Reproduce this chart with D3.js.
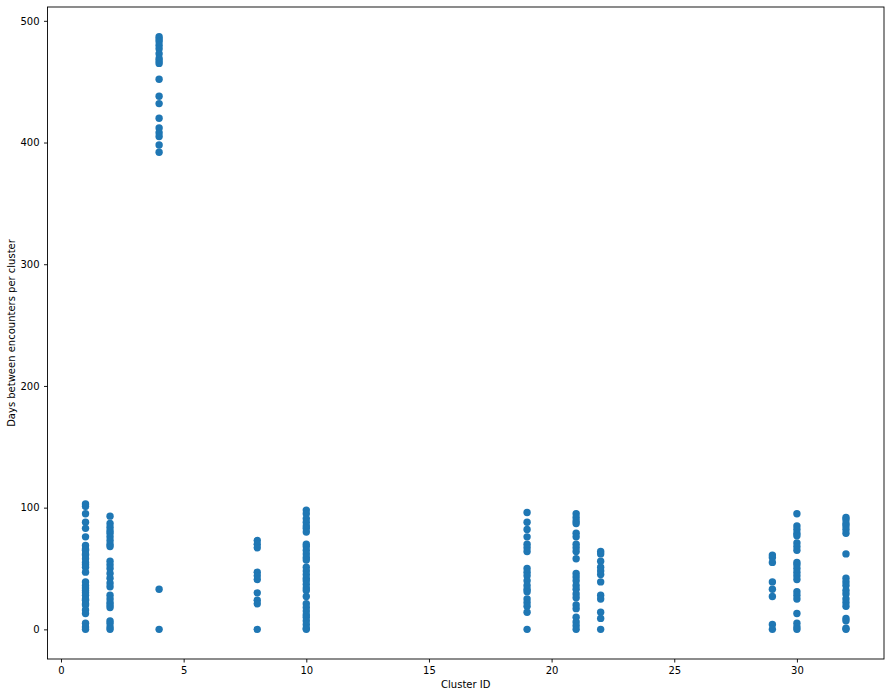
<!DOCTYPE html>
<html>
<head>
<meta charset="utf-8">
<script src="https://cdn.jsdelivr.net/npm/d3@7"></script>
<style>
  body { margin: 0; background: #fff; }
  text { font-family: "DejaVu Sans", sans-serif; }
</style>
</head>
<body>
<div id="chart"></div>
<script>
// cluster ids and days between encounters
var clusterIds = [1, 2, 4, 8, 10, 19, 21, 22, 29, 30, 32];

var days1 = [103, 101, 95, 88, 83, 76, 69, 66, 65, 62, 61, 58, 55, 53, 51, 47, 39, 36, 34, 32, 30, 28, 25, 24, 21, 20, 16, 13, 5, 2, 0];
var days2 = [93, 87, 84, 81, 79, 76, 73, 70, 68, 56, 53, 50, 46, 42, 38, 35, 28, 25, 22, 20, 18, 7, 5, 2, 0];
var days4 = [487, 485, 483, 480, 477, 473, 469, 467, 465, 452, 438, 432, 420, 412, 408, 405, 398, 392, 33, 0];
var days8 = [73, 70, 67, 47, 44, 41, 30, 24, 21, 0];
var days10 = [98, 95, 91, 88, 85, 83, 80, 70, 68, 65, 62, 59, 57, 51, 48, 45, 42, 40, 37, 34, 32, 27, 21, 18, 15, 12, 10, 7, 4, 1, 0];
var days19 = [96, 88, 82, 76, 70, 67, 64, 50, 47, 44, 40, 36, 33, 31, 25, 22, 19, 14, 0];
var days21 = [95, 92, 89, 87, 79, 76, 70, 67, 64, 58, 46, 43, 40, 36, 33, 29, 26, 20, 17, 10, 6, 3, 0];
var days22 = [64, 62, 56, 51, 48, 45, 39, 28, 25, 14, 9, 0];
var days29 = [61, 59, 55, 39, 33, 27, 4, 0];
var days30 = [95, 85, 82, 79, 77, 71, 68, 65, 55, 53, 50, 47, 44, 41, 31, 28, 25, 13, 5, 2, 0];
var days32 = [92, 90, 87, 85, 82, 79, 62, 42, 39, 36, 32, 29, 25, 22, 19, 9, 7, 1, 0];

var daysByCluster = [days1, days2, days4, days8, days10, days19, days21, days22, days29, days30, days32];

var xTicks = [0, 5, 10, 15, 20, 25, 30];
var yTicks = [0, 100, 200, 300, 400, 500];

render();

function render() {
  var W = 891, H = 697;
  var margin = { top: 7, right: 7, bottom: 38, left: 47.5 };
  var width = W - margin.left - margin.right;
  var height = H - margin.top - margin.bottom;

  var points = [];
  for (var i = 0; i < clusterIds.length; i++) {
    daysByCluster[i].forEach(function (v) {
      points.push({ cluster: clusterIds[i], days: v });
    });
  }

  // matplotlib style 5% padding
  var xMin = d3.min(clusterIds), xMax = d3.max(clusterIds);
  var yMin = d3.min(points, function (d) { return d.days; });
  var yMax = d3.max(points, function (d) { return d.days; });
  var xPad = (xMax - xMin) * 0.05, yPad = (yMax - yMin) * 0.05;

  var xScale = d3.scaleLinear()
    .domain([xMin - xPad, xMax + xPad])
    .range([0, width]);
  var yScale = d3.scaleLinear()
    .domain([yMin - yPad, yMax + yPad])
    .range([height, 0]);

  var svg = d3.select("#chart")
    .append("svg")
    .attr("width", W)
    .attr("height", H)
    .append("g")
    .attr("transform", "translate(" + margin.left + "," + margin.top + ")");

  svg.selectAll("circle")
    .data(points)
    .enter()
    .append("circle")
    .attr("cx", function (d) { return xScale(d.cluster); })
    .attr("cy", function (d) { return yScale(d.days); })
    .attr("r", 3.7)
    .attr("fill", "#1f77b4");

  // frame
  svg.append("rect")
    .attr("x", 0).attr("y", 0)
    .attr("width", width).attr("height", height)
    .attr("fill", "none")
    .attr("stroke", "#000")
    .attr("stroke-width", 0.9);

  var xAxis = svg.append("g")
    .attr("transform", "translate(0," + height + ")")
    .call(d3.axisBottom(xScale).tickValues(xTicks).tickSize(3.5).tickPadding(4.5).tickFormat(d3.format("d")));
  var yAxis = svg.append("g")
    .call(d3.axisLeft(yScale).tickValues(yTicks).tickSize(3.5).tickPadding(4.5).tickFormat(d3.format("d")));

  [xAxis, yAxis].forEach(function (a) {
    a.select(".domain").remove();
    a.selectAll("line").attr("stroke", "#000").attr("stroke-width", 0.9);
    a.selectAll("text")
      .attr("fill", "#000")
      .style("font-size", "10px")
      .style("font-family", "DejaVu Sans, sans-serif");
  });

  svg.append("text")
    .attr("x", width / 2)
    .attr("y", height + 29)
    .attr("text-anchor", "middle")
    .style("font-size", "10px")
    .text("Cluster ID");

  svg.append("text")
    .attr("transform", "translate(" + (-33) + "," + (height / 2) + ") rotate(-90)")
    .attr("text-anchor", "middle")
    .style("font-size", "10px")
    .text("Days between encounters per cluster");
}
</script>
</body>
</html>
